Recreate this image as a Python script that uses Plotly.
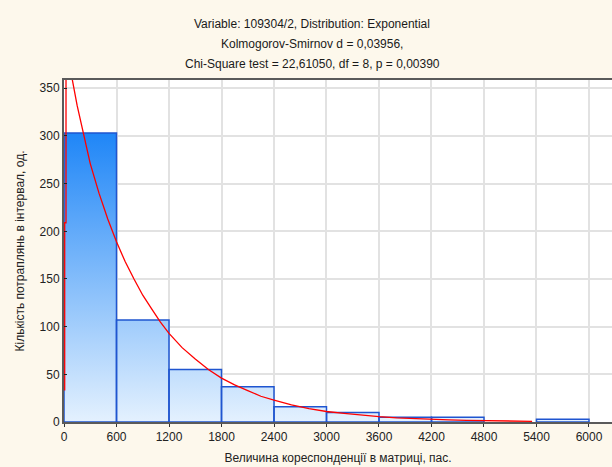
import plotly.graph_objects as go

# ---- data ----
bin_edges = [0, 600, 1200, 1800, 2400, 3000, 3600, 4200, 4800, 5400, 6000]
counts = [303, 107, 55, 37, 16, 10, 5, 5, 0, 3]

# fitted exponential expected-frequency curve
curve_x = [8, 8, 23, 23, 60, 95, 150, 220, 300, 400, 500, 600, 700, 800, 900, 1000,
           1100, 1200, 1350, 1500, 1650, 1800, 1950, 2100, 2250, 2400, 2600, 2800,
           3000, 3200, 3400, 3600, 3800, 4000, 4200, 4400, 4600, 4800, 5000, 5200, 5350]
curve_y = [33, 209, 209, 395, 380, 359, 332, 302, 271, 240, 213, 189, 168, 150, 133, 119,
           105, 93, 78, 66, 55, 46, 39, 33, 27, 23, 18, 14, 11, 9, 7, 5.6, 4.4, 3.5,
           2.7, 2.2, 1.7, 1.3, 1.1, 0.8, 0.7]

x_ticks = [0, 600, 1200, 1800, 2400, 3000, 3600, 4200, 4800, 5400, 6000]
y_ticks = [0, 50, 100, 150, 200, 250, 300, 350]

title_lines = [
    "Variable: 109304/2, Distribution: Exponential",
    "Kolmogorov-Smirnov d = 0,03956,",
    "Chi-Square test = 22,61050, df = 8, p = 0,00390",
]
x_title = "Величина кореспонденції в матриці, пас."
y_title = "Кількість потраплянь в інтервал, од."

FONT = "Liberation Sans"

fig = go.Figure()

# histogram bars as gradient-filled rectangles
bx, by = [], []
for i, c in enumerate(counts):
    if c <= 0:
        continue
    x0, x1 = bin_edges[i], bin_edges[i + 1]
    bx += [x0, x0, x1, x1, x0, None]
    by += [0, c, c, 0, 0, None]

fig.add_trace(go.Scatter(
    x=bx, y=by, mode="lines", fill="toself",
    line=dict(color="#1f55d0", width=1.5),
    fillgradient=dict(type="vertical",
                      colorscale=[[0, "#e4f1fe"], [1, "#1f86f7"]],
                      start=0, stop=max(counts)),
    hoverinfo="skip", showlegend=False,
))

fig.add_trace(go.Scatter(
    x=curve_x, y=curve_y, mode="lines",
    line=dict(color="#ff0000", width=1.3),
    showlegend=False,
))

for k, t in enumerate(title_lines):
    fig.add_annotation(text=t, xref="paper", yref="paper", x=0.4526, y=1,
                       xanchor="center", yanchor="middle", yshift=56 - 20 * k,
                       showarrow=False, font=dict(family=FONT, size=12, color="#1a1a1a"))

fig.update_layout(
    width=612, height=467,
    margin=dict(l=64, r=0, t=80, b=45),
    paper_bgcolor="#fdf8ec", plot_bgcolor="#ffffff",
    font=dict(family=FONT, size=12, color="#222222"),
    xaxis=dict(range=[0, 6263], tickvals=x_ticks, ticks="outside", ticklen=3,
               tickcolor="#333", showgrid=True, gridcolor="#e2e2e2", gridwidth=2,
               showline=True, linecolor="#5a5a5a", linewidth=2, mirror=True,
               zeroline=False,
               title=dict(text=x_title, standoff=10, font=dict(size=12))),
    yaxis=dict(range=[0, 358.7], tickvals=y_ticks, ticks="inside", ticklen=3,
               tickcolor="#222", showgrid=True, gridcolor="#e2e2e2", gridwidth=2,
               showline=True, linecolor="#5a5a5a", linewidth=2, zeroline=False,
               title=dict(text=y_title, standoff=12, font=dict(size=12))),
)

fig.write_html("out.html")
